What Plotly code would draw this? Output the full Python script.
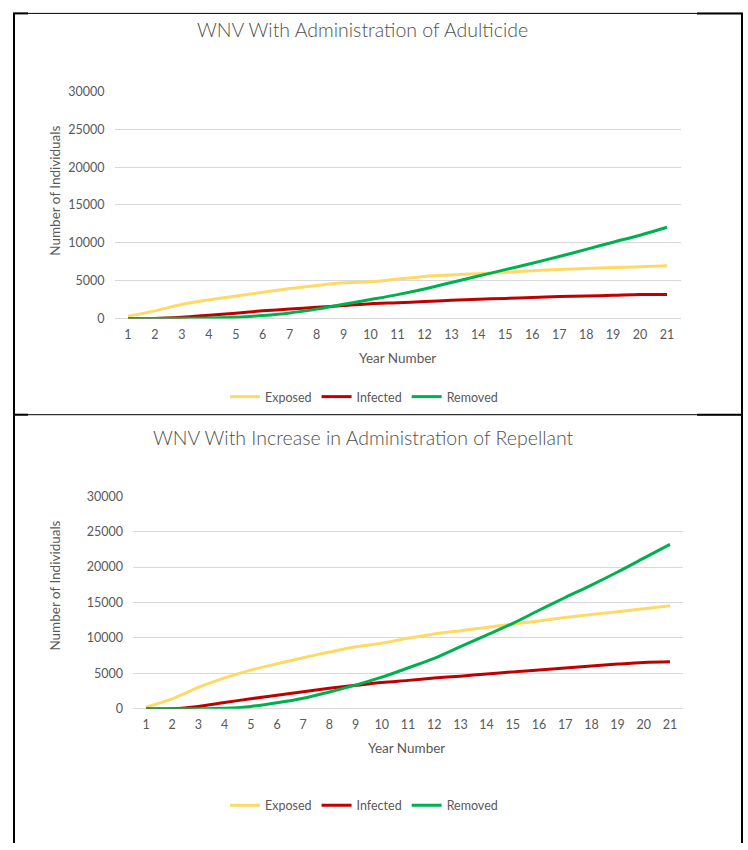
import plotly.graph_objects as go

# Year index (category axis)
years = list(range(1, 22))

# Chart 1: WNV with administration of adulticide
adult_exposed = [300, 1000, 1850, 2450, 2950, 3450, 3950, 4350, 4700, 4850, 5200,
                 5550, 5750, 5900, 6100, 6300, 6480, 6610, 6720, 6830, 6950]
adult_infected = [0, 0, 170, 430, 700, 1000, 1230, 1480, 1700, 1950, 2080,
                  2230, 2390, 2520, 2650, 2780, 2900, 2960, 3050, 3160, 3170]
adult_removed = [0, 0, 20, 60, 150, 380, 720, 1230, 1870, 2500, 3150,
                 3900, 4750, 5600, 6450, 7300, 8180, 9130, 10080, 11000, 12050]

# Chart 2: WNV with increase in administration of repellant
rep_exposed = [230, 1400, 3000, 4350, 5450, 6350, 7200, 8000, 8750, 9250, 9950,
               10550, 11020, 11480, 11950, 12400, 12870, 13290, 13700, 14120, 14540]
rep_infected = [0, 0, 320, 880, 1400, 1900, 2400, 2880, 3300, 3700, 4000,
                4320, 4600, 4900, 5200, 5470, 5740, 6020, 6300, 6530, 6620]
rep_removed = [0, 0, 0, 50, 320, 830, 1480, 2370, 3330, 4450, 5750,
               7100, 8750, 10400, 12050, 13900, 15700, 17450, 19300, 21250, 23200]

y_ticks = [0, 5000, 10000, 15000, 20000, 25000, 30000]
series_names = ["Exposed", "Infected", "Removed"]
series_colors = ["#FFD966", "#C00000", "#00B050"]

titles = ["WNV With Administration of Adulticide",
          "WNV With Increase in Administration of Repellant"]

W, H = 748, 850
FONT = "Lato"
GREY = "#595959"
GRID = "#D9D9D9"


def px(x):
    return x / W


def py(y):
    return 1 - y / H


fig = go.Figure()

panels = [
    dict(data=[adult_exposed, adult_infected, adult_removed], xa="x", ya="y",
         legend="legend"),
    dict(data=[rep_exposed, rep_infected, rep_removed], xa="x2", ya="y2",
         legend="legend2"),
]

for p in panels:
    for name, color, vals in zip(series_names, series_colors, p["data"]):
        fig.add_trace(go.Scatter(
            x=years, y=vals, name=name, mode="lines",
            line=dict(color=color, width=3, shape="spline", smoothing=0.9),
            xaxis=p["xa"], yaxis=p["ya"], legend=p["legend"],
        ))

# plot-area geometry (pixels)
geom = [
    dict(x0=114.5, x1=680.5, ytop=85, ybot=316),
    dict(x0=132.9, x1=683.1, ytop=497, ybot=713.3),
]

axis_common_x = dict(
    range=[0.5, 21.5], tickmode="array", tickvals=years,
    ticktext=[str(v) for v in years], showgrid=False, zeroline=False,
    showline=False, ticks="", tickfont=dict(family=FONT, size=12.5, color=GREY),
    ticklabelstandoff=7, fixedrange=True,
)
axis_common_y = dict(
    range=[0, 30000], tickmode="array", tickvals=y_ticks,
    ticktext=[str(v) for v in y_ticks], showgrid=True, gridcolor=GRID,
    gridwidth=1, zeroline=True, zerolinecolor=GRID, zerolinewidth=1,
    showline=False, ticks="", tickfont=dict(family=FONT, size=12.5, color=GREY),
    ticklabelstandoff=9, fixedrange=True,
)

fig.update_layout(
    xaxis=dict(domain=[px(geom[0]["x0"]), px(geom[0]["x1"])], anchor="y",
               **axis_common_x),
    yaxis=dict(domain=[py(geom[0]["ybot"]), py(geom[0]["ytop"])], anchor="x",
               **axis_common_y),
    xaxis2=dict(domain=[px(geom[1]["x0"]), px(geom[1]["x1"])], anchor="y2",
                **axis_common_x),
    yaxis2=dict(domain=[py(geom[1]["ybot"]), py(geom[1]["ytop"])], anchor="x2",
                **axis_common_y),
)

legend_style = dict(orientation="h", xanchor="center", yanchor="middle",
                    font=dict(family=FONT, size=12.5, color=GREY),
                    bgcolor="rgba(0,0,0,0)", itemwidth=30)
fig.update_layout(
    legend=dict(x=px(364), y=py(396), **legend_style),
    legend2=dict(x=px(364), y=py(812), **legend_style),
)

annotations = []
title_pos = [(362, 22), (363, 437)]
xlab_pos = [(397, 356), (407, 753)]
ylab_pos = [(55, 186), (55, 588)]
for t, (tx, ty), (xx, xy), (yx, yy) in zip(titles, title_pos, xlab_pos, ylab_pos):
    annotations.append(dict(text=t, x=px(tx), y=py(ty), xref="paper", yref="paper",
                            showarrow=False, xanchor="center", yanchor="middle",
                            font=dict(family=FONT, size=19.5, color="#505050",
                                      weight=300)))
    annotations.append(dict(text="Year Number", x=px(xx), y=py(xy), xref="paper",
                            yref="paper", showarrow=False, xanchor="center",
                            yanchor="middle",
                            font=dict(family=FONT, size=13.5, color=GREY)))
    annotations.append(dict(text="Number of Individuals", x=px(yx), y=py(yy),
                            xref="paper", yref="paper", showarrow=False,
                            textangle=-90, xanchor="center", yanchor="middle",
                            font=dict(family=FONT, size=13.5, color=GREY)))

# frame lines around the two chart blocks
shapes = []


def seg(x0, y0, x1, y1, w):
    shapes.append(dict(type="line", xref="paper", yref="paper",
                       x0=px(x0), y0=py(y0), x1=px(x1), y1=py(y1),
                       line=dict(color="black", width=w)))


seg(14, 5, 14, 850, 2)
seg(742, 5, 742, 850, 2)
for yy in (5.5, 414):
    seg(14, yy, 742, yy, 1)
    seg(13, yy, 28, yy, 2)
    seg(697, yy, 743, yy, 2)

fig.update_layout(
    width=W, height=H, margin=dict(l=0, r=0, t=0, b=0),
    paper_bgcolor="white", plot_bgcolor="white",
    annotations=annotations, shapes=shapes, showlegend=True,
)

fig.write_html("out.html")
